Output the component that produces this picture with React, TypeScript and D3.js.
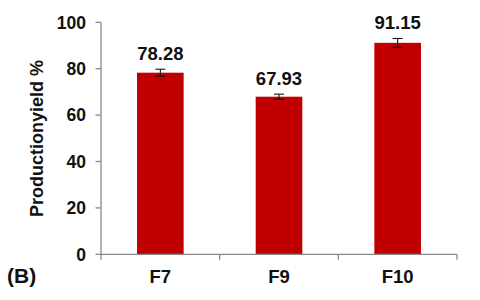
import React from "react";
import * as d3 from "d3";

const categories = ["F7", "F9", "F10"];
const values = [78.28, 67.93, 91.15];
const errors = [1.5, 1.1, 1.9];
const yTicks = [0, 20, 40, 60, 80, 100];

const W = 480, H = 300;
const left = 101, right = 457, top = 22.3, bottom = 254.3;

export default function App() {
  const xb = d3.scaleBand<string>().domain(categories).range([left, right]);
  const y = d3.scaleLinear().domain([0, 100]).range([bottom, top]);
  const font = "'Liberation Sans', Arial, sans-serif";
  const axisColor = "#898989";
  return (
    <svg width={W} height={H} style={{ position: "absolute", left: 0, top: 0 }} fontFamily={font}>
      <rect width={W} height={H} fill="#fff" />
      {categories.map((c, i) => {
        const cx = (xb(c) as number) + xb.bandwidth() / 2;
        const bw = xb.bandwidth() * 0.393;
        const v = values[i], e = errors[i];
        return (
          <g key={c}>
            <rect x={cx - bw / 2} y={y(v)} width={bw} height={y(0) - y(v)} fill="#C00000" />
            <line x1={cx} x2={cx} y1={y(v + e)} y2={y(v - e)} stroke="#000" strokeWidth={1} />
            <line x1={cx - 5} x2={cx + 5} y1={y(v + e)} y2={y(v + e)} stroke="#000" strokeWidth={1} />
            <line x1={cx - 5} x2={cx + 5} y1={y(v - e)} y2={y(v - e)} stroke="#000" strokeWidth={1} />
            <text x={cx} y={y(v + e) - 9.5} textAnchor="middle" fontSize={18.5} fontWeight="bold" fill="#111">
              {v.toFixed(2)}
            </text>
            <text x={cx} y={282.5} textAnchor="middle" fontSize={18.5} fontWeight="bold" fill="#111">
              {c}
            </text>
          </g>
        );
      })}
      <line x1={left} x2={left} y1={top} y2={bottom} stroke={axisColor} strokeWidth={1.3} />
      <line x1={left} x2={right} y1={bottom} y2={bottom} stroke={axisColor} strokeWidth={1.3} />
      {yTicks.map((t) => (
        <g key={t}>
          <line x1={left - 5.5} x2={left} y1={y(t)} y2={y(t)} stroke={axisColor} strokeWidth={1.3} />
          <text x={86} y={y(t) + 6.3} textAnchor="end" fontSize={17.5} fontWeight="bold" fill="#111">
            {t}
          </text>
        </g>
      ))}
      {xb.domain().map((c) => (
        <line key={c} x1={(xb(c) as number) + xb.bandwidth()} x2={(xb(c) as number) + xb.bandwidth()} y1={bottom} y2={bottom + 5.5} stroke={axisColor} strokeWidth={1.3} />
      ))}
      <line x1={left} x2={left} y1={bottom} y2={bottom + 5.5} stroke={axisColor} strokeWidth={1.3} />
      <text transform={`translate(42.5,138.5) rotate(-90)`} textAnchor="middle" fontSize={18} fontWeight="bold" fill="#111">
        Productionyield %
      </text>
      <text x={7} y={283} fontSize={21} fontWeight="bold" fill="#111">(B)</text>
    </svg>
  );
}
